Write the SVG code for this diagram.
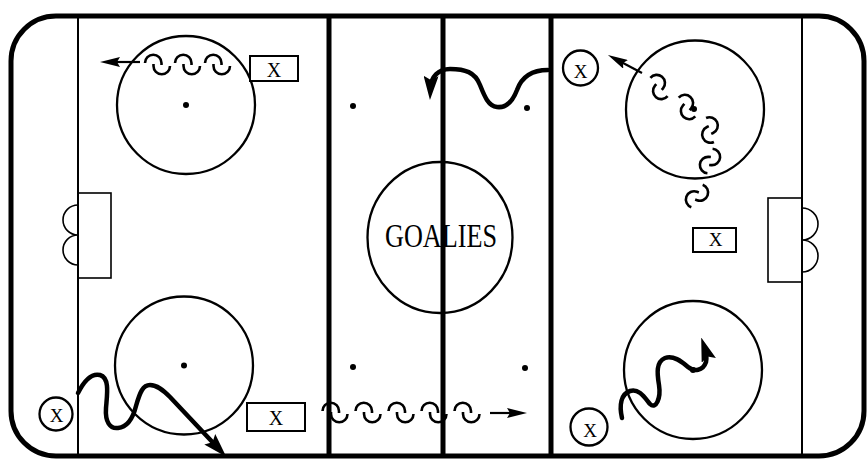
<svg xmlns="http://www.w3.org/2000/svg" width="868" height="460" viewBox="0 0 868 460">
<defs>
<style>
.rink{fill:none;stroke:#000;stroke-width:5}
.bline{fill:none;stroke:#000;stroke-width:5}
.gline{fill:none;stroke:#000;stroke-width:2}
.net{fill:none;stroke:#000;stroke-width:1.6}
.fc{fill:none;stroke:#000;stroke-width:2.3}
.dot{fill:#000}
.box{fill:#fff;stroke:#000;stroke-width:2}
.lbl{font-family:"Liberation Serif","Times New Roman",serif;fill:#000;text-anchor:middle}
.loop{fill:none;stroke:#000;stroke-width:2.6}
.puck{fill:none;stroke:#000;stroke-width:4.5;stroke-linecap:round;stroke-linejoin:round}
.pass{fill:none;stroke:#000;stroke-width:2.2}
</style>
<marker id="ahThin" viewBox="0 0 20 10" refX="12" refY="5" markerWidth="20" markerHeight="10" markerUnits="userSpaceOnUse" orient="auto"><path d="M0,0 L20,5 L0,10 L3,5 z" fill="#000"/></marker>
<marker id="ahThick" viewBox="0 0 24 15" refX="12" refY="7.5" markerWidth="24" markerHeight="15" markerUnits="userSpaceOnUse" orient="auto"><path d="M0,0 L24,7.5 L0,15 L4,7.5 z" fill="#000"/></marker>
<g id="s">
<path d="M-12.5,-1.5 A8.25,8.25 0 0 1 4,-1.5 L4,0.5"/>
<path d="M-4,-0.5 L-4,1.5 A8.25,8.25 0 0 0 12.5,1.5"/>
</g>
</defs>

<g id="rink">
<rect class="rink" x="11" y="16" width="853" height="440" rx="45" ry="45"/>
<line class="gline" x1="78" y1="16" x2="78" y2="456"/>
<line class="gline" x1="802" y1="16" x2="802" y2="456"/>
<rect class="net" x="78" y="193" width="33" height="85"/>
<path class="net" d="M78,205 A15,15 0 0 0 78,235 A15,15 0 0 0 78,265"/>
<rect class="net" x="768" y="198" width="34" height="84"/>
<path class="net" d="M802,208 A16,16 0 0 1 802,240 A16,16 0 0 1 802,272"/>
<circle class="fc" cx="186" cy="105" r="69"/>
<circle class="dot" cx="186" cy="105" r="3"/>
<circle class="fc" cx="184" cy="365.5" r="69"/>
<circle class="dot" cx="184" cy="365.5" r="3"/>
<circle class="fc" cx="695" cy="109.5" r="69"/>
<circle class="dot" cx="694" cy="109" r="3"/>
<circle class="fc" cx="693" cy="370" r="69"/>
<circle class="dot" cx="693" cy="370" r="3"/>
<circle class="dot" cx="353" cy="106" r="3"/>
<circle class="dot" cx="527" cy="108" r="3"/>
<circle class="dot" cx="353" cy="367" r="3"/>
<circle class="dot" cx="525" cy="368" r="3"/>
<line class="bline" x1="329" y1="16" x2="329" y2="456"/>
<line class="bline" x1="551" y1="16" x2="551" y2="456"/>
</g>

<g id="goalies">
<ellipse class="fc" cx="440" cy="237.5" rx="72.5" ry="75.5"/>
<text class="lbl" x="441" y="247" font-size="34" textLength="112" lengthAdjust="spacingAndGlyphs">GOALIES</text>
</g>
<line class="bline" x1="443" y1="16" x2="443" y2="456"/>

<g id="x-box-top-left">
<rect class="box" x="250" y="56" width="48" height="25"/>
<text class="lbl" x="274" y="77" font-size="20">X</text>
</g>
<g id="x-box-bottom-left">
<rect class="box" x="247" y="403" width="58" height="28"/>
<text class="lbl" x="276" y="425" font-size="20">X</text>
</g>
<g id="x-box-right">
<rect class="box" x="693" y="228" width="43" height="24"/>
<text class="lbl" x="715.5" y="246" font-size="19">X</text>
</g>
<g id="x-circle-left">
<circle class="fc" cx="56" cy="414" r="16.5"/>
<text class="lbl" x="56.5" y="421.5" font-size="19">X</text>
</g>
<g id="x-circle-top-right">
<circle class="fc" cx="580.5" cy="68" r="17.5"/>
<text class="lbl" x="580.5" y="77.5" font-size="19">X</text>
</g>
<g id="x-circle-bottom-right">
<circle class="fc" cx="589" cy="427" r="18.5"/>
<text class="lbl" x="590" y="436.5" font-size="19">X</text>
</g>

<g id="connectors">
<g class="loop">
<use href="#s" transform="translate(157.5,64.5)"/>
<use href="#s" transform="translate(187.5,64.5)"/>
<use href="#s" transform="translate(217.5,64.5)"/>
</g>
<path class="pass" d="M140,62 L108,62" marker-end="url(#ahThin)"/>

<g class="loop">
<use href="#s" transform="translate(335,412.5)"/>
<use href="#s" transform="translate(368,412.5)"/>
<use href="#s" transform="translate(401,412.5)"/>
<use href="#s" transform="translate(434,412.5)"/>
<use href="#s" transform="translate(467,412.5)"/>
</g>
<path class="pass" d="M490,413 L519,413" marker-end="url(#ahThin)"/>

<g class="loop">
<use href="#s" transform="translate(659,87) rotate(40)"/>
<use href="#s" transform="translate(687,107) rotate(42)"/>
<use href="#s" transform="translate(710,130) rotate(65)"/>
<use href="#s" transform="translate(710,161) rotate(95)"/>
<use href="#s" transform="translate(697,196) rotate(110)"/>
</g>
<path class="pass" d="M642,73 L615,58.7" marker-end="url(#ahThin)"/>

<path class="puck" d="M78,393 C84,381 92,373 100,375 C110,378 107,395 106,408 C105,422 110,429 118,428 C128,427 133,418 136,406 C140,392 143,385 150,385 C157,385 163,390 170,397 L218,448" marker-end="url(#ahThick)"/>
<path class="puck" d="M548,70 C532,70 522,76 517,90 C512,103 505,108 497,107 C488,106 484,95 480,85 C475,72 465,69 450,69 C438,69 431,77 430.5,88" marker-end="url(#ahThick)"/>
<path class="puck" d="M622,418 C619,405 621,394 630,391 C639,388 645,398 650,404 C656,410 661,398 659,385 C657,373 656,362 665,358 C673,355 681,361 688,367 C694,372 703,371 706,362 C707,357 706,352 705,349" marker-end="url(#ahThick)"/>
</g>
</svg>
